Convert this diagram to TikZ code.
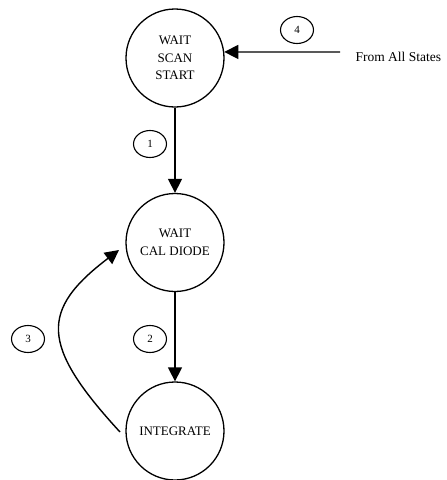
\documentclass[tikz,border=0pt]{standalone}
\usepackage{fontspec}
\setmainfont{Liberation Serif}
\usetikzlibrary{arrows.meta,shapes.geometric}
\begin{document}
\begin{tikzpicture}[x=1pt,y=-1pt,
		state/.style={draw,circle,line width=1.3pt,minimum size=98pt,inner sep=0pt,align=center,
			font=\fontsize{13}{17.5}\selectfont},
		tag/.style={draw,ellipse,line width=1.1pt,minimum width=33pt,minimum height=27pt,inner sep=0pt,
			font=\fontsize{11}{13}\selectfont},
		trans/.style={line width=1.4pt,-{Triangle[length=14pt,width=14pt]}}]
		\useasboundingbox (0,0) rectangle (447,480);
		\node[state] (scan)  at (175,58)    {WAIT\\SCAN\\START};
		\node[state] (diode) at (175,242.5) {WAIT\\CAL DIODE};
		\node[state] (integ) at (175,431)   {INTEGRATE};
		\node[tag] (t1) at (150,144) {1};
		\node[tag] (t2) at (150,339) {2};
		\node[tag] (t3) at (28,339)  {3};
		\node[tag] (t4) at (297,30)  {4};
		\node[anchor=west,font=\fontsize{13.5}{16}\selectfont] (all) at (352,57) {From All States};
		\coordinate (src)  at (340,52);
		\coordinate (back) at (120,432);
		\coordinate (tip)  at (119,250);
		\draw[trans] (src) -- (scan.7);
		\draw[trans] (scan) -- (diode);
		\draw[trans] (diode) -- (integ);
		\draw[trans] (back) .. controls (40,345) and (40,310) .. (tip);
	\end{tikzpicture}
\end{document}
